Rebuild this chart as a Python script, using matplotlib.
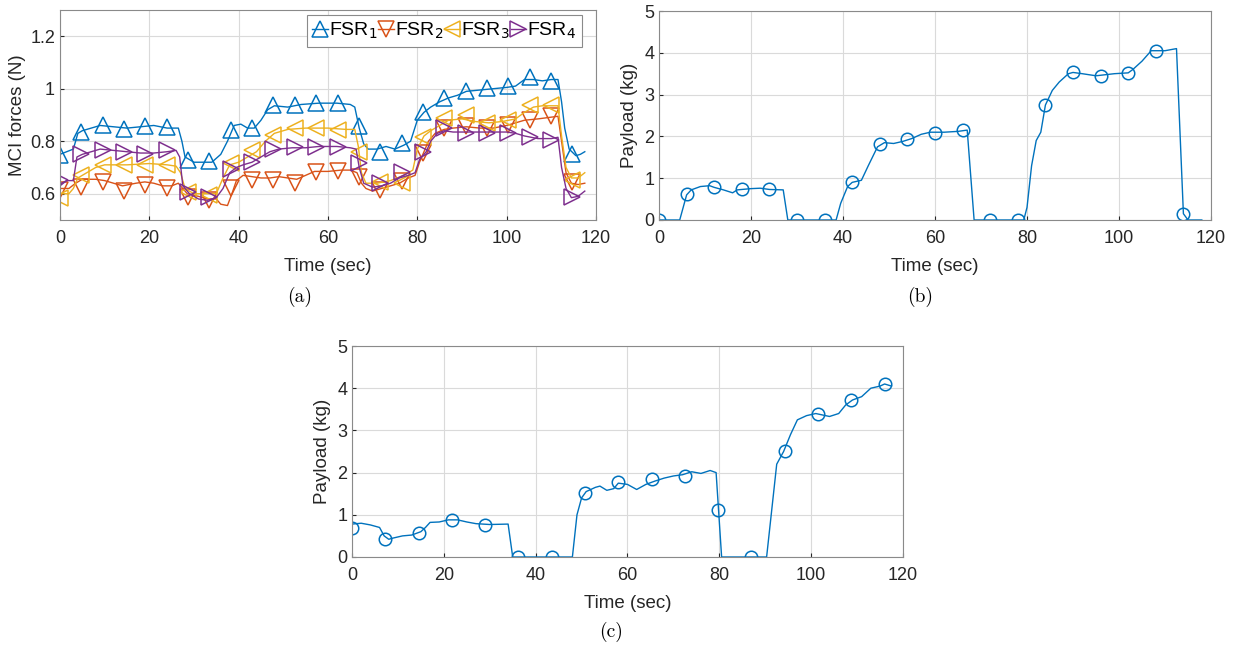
import numpy as np
import matplotlib.pyplot as plt
from matplotlib.lines import Line2D

plt.rcParams['font.family'] = ['Liberation Sans', 'DejaVu Sans']

# ---- (a) MCI forces, 4 FSR sensors ----
fsr_names = ['FSR$_1$', 'FSR$_2$', 'FSR$_3$', 'FSR$_4$']

fsr1_t = [0, 1.5, 3, 4, 5, 7, 9, 12, 15, 18, 21, 24, 26.5, 27.3, 28, 30, 32, 34, 36, 37.5, 39, 40.5,
          42, 43.5, 45, 46.5, 48, 51, 54, 58, 62, 65, 66, 67, 68, 69, 71, 73, 75, 77, 78.5, 80, 81.5,
          83, 85, 87, 89, 91, 94, 97, 100, 102, 104, 106, 108, 110, 111.5, 112.3, 113, 114, 115.5,
          116.5, 117.5]
fsr1_v = [0.75, 0.76, 0.77, 0.83, 0.84, 0.85, 0.86, 0.855, 0.85, 0.855, 0.86, 0.85, 0.85, 0.80, 0.74,
          0.72, 0.72, 0.72, 0.75, 0.80, 0.86, 0.865, 0.85, 0.85, 0.88, 0.92, 0.935, 0.93, 0.94, 0.945,
          0.945, 0.94, 0.93, 0.85, 0.79, 0.77, 0.77, 0.78, 0.77, 0.785, 0.80, 0.88, 0.91, 0.93, 0.95,
          0.965, 0.975, 0.99, 0.995, 1.0, 1.005, 1.01, 1.035, 1.035, 1.03, 1.035, 1.035, 0.95, 0.85,
          0.77, 0.745, 0.75, 0.76]

fsr2_t = [0, 2, 3.5, 5, 8, 10, 12, 14, 17, 19, 21, 23, 25, 26.5, 27.5, 28.5, 31, 33, 35, 36, 37.5,
          38.5, 39.5, 41, 43, 45, 47, 49, 51, 53, 55, 57, 60, 63, 65, 66.5, 67.5, 68.5, 70, 72, 74,
          76, 78, 79.5, 80.5, 81.5, 82.5, 84, 86, 88, 91, 94, 97, 100, 102, 104, 107, 111.5, 112.3,
          113.3, 114.5, 116, 117.5]
fsr2_v = [0.62, 0.62, 0.64, 0.655, 0.655, 0.65, 0.64, 0.63, 0.64, 0.645, 0.64, 0.63, 0.63, 0.64,
          0.62, 0.60, 0.59, 0.58, 0.58, 0.56, 0.555, 0.60, 0.65, 0.67, 0.665, 0.66, 0.66, 0.665,
          0.66, 0.655, 0.67, 0.685, 0.685, 0.69, 0.69, 0.68, 0.64, 0.62, 0.61, 0.62, 0.63, 0.64,
          0.66, 0.67, 0.72, 0.76, 0.80, 0.83, 0.845, 0.85, 0.855, 0.85, 0.85, 0.86, 0.87, 0.88,
          0.885, 0.895, 0.80, 0.68, 0.64, 0.635, 0.64]

fsr3_t = [0, 2, 3, 4, 6, 8, 10, 15, 20, 24, 26, 27, 28, 30, 33, 35, 36.5, 38, 40, 42, 44, 46, 48,
          51, 55, 60, 64, 66, 66.8, 67.5, 68.5, 71, 74, 77, 79, 80, 81.5, 83, 85, 87, 90, 93, 96, 99,
          102, 104, 106, 108, 111.5, 112.3, 113.3, 114.5, 116, 117.5]
fsr3_v = [0.60, 0.60, 0.62, 0.66, 0.68, 0.70, 0.71, 0.71, 0.715, 0.71, 0.705, 0.68, 0.62, 0.60,
          0.60, 0.60, 0.66, 0.71, 0.72, 0.74, 0.76, 0.80, 0.83, 0.845, 0.85, 0.85, 0.845, 0.845,
          0.78, 0.68, 0.64, 0.64, 0.65, 0.67, 0.69, 0.77, 0.82, 0.84, 0.86, 0.88, 0.885, 0.875,
          0.87, 0.875, 0.885, 0.91, 0.93, 0.935, 0.935, 0.82, 0.70, 0.66, 0.66, 0.68]

fsr4_t = [0, 1.5, 3, 3.8, 5, 7, 9, 12, 15, 18, 21, 24, 26, 26.8, 27.5, 29, 31, 33, 35, 36.5, 38,
          39.5, 41, 43, 45, 47, 49, 52, 55, 58, 62, 65, 66.3, 67, 68, 70, 72, 74, 76, 78, 79.5, 80.5,
          82, 83, 84.5, 86, 88, 92, 96, 100, 102, 104, 107, 110, 111.5, 112.3, 113.3, 114.5, 116,
          117.5]
fsr4_v = [0.63, 0.65, 0.65, 0.74, 0.75, 0.76, 0.77, 0.765, 0.76, 0.755, 0.755, 0.76, 0.765, 0.74,
          0.63, 0.60, 0.58, 0.575, 0.585, 0.62, 0.68, 0.70, 0.71, 0.72, 0.74, 0.76, 0.77, 0.775,
          0.775, 0.78, 0.78, 0.775, 0.77, 0.70, 0.64, 0.625, 0.63, 0.64, 0.66, 0.67, 0.68, 0.73,
          0.76, 0.80, 0.83, 0.84, 0.835, 0.835, 0.835, 0.835, 0.83, 0.82, 0.81, 0.81, 0.815, 0.70,
          0.62, 0.585, 0.59, 0.61]

# marker samples (every ~4.78 s)
fsr_mk_t = [0, 4.78, 9.56, 14.34, 19.12, 23.9, 28.68, 33.46, 38.24, 43.02, 47.8, 52.58, 57.36,
            62.14, 66.92, 71.7, 76.48, 81.26, 86.04, 90.82, 95.6, 100.38, 105.16, 109.94, 114.72]
fsr1_mk = [0.748, 0.837, 0.863, 0.845, 0.858, 0.853, 0.729, 0.726, 0.843, 0.849, 0.938, 0.938,
           0.944, 0.947, 0.858, 0.760, 0.792, 0.913, 0.963, 0.993, 1.002, 1.010, 1.043, 1.031, 0.751]
fsr2_mk = [0.614, 0.624, 0.646, 0.612, 0.633, 0.621, 0.586, 0.576, 0.621, 0.652, 0.652, 0.642,
           0.684, 0.688, 0.663, 0.614, 0.648, 0.754, 0.849, 0.858, 0.849, 0.862, 0.881, 0.896, 0.646]
fsr3_mk = [0.583, 0.671, 0.710, 0.710, 0.710, 0.710, 0.608, 0.595, 0.716, 0.767, 0.824, 0.849,
           0.849, 0.843, 0.760, 0.646, 0.640, 0.817, 0.887, 0.900, 0.868, 0.881, 0.938, 0.938, 0.652]
fsr4_mk = [0.652, 0.750, 0.767, 0.760, 0.751, 0.767, 0.608, 0.586, 0.693, 0.722, 0.769, 0.779,
           0.779, 0.779, 0.716, 0.640, 0.684, 0.760, 0.849, 0.833, 0.833, 0.830, 0.817, 0.805, 0.586]

# ---- (b) payload ----
pay_b_t = [0, 4.5, 6, 7, 9, 11, 12, 14, 16, 17, 20, 22, 24, 27, 28, 38.5, 39.5, 41, 42, 44, 45.5,
           47.5, 49, 51, 53, 55, 57, 59, 62, 65, 67, 68.5, 79.3, 80, 81, 82, 83, 84, 85.5, 87, 89,
           90, 92, 95, 99, 102, 103, 105, 107, 110, 112.5, 114, 115, 118]
pay_b_v = [0, 0, 0.60, 0.72, 0.80, 0.82, 0.78, 0.72, 0.65, 0.72, 0.75, 0.76, 0.73, 0.72, 0, 0,
           0.40, 0.80, 0.90, 0.95, 1.30, 1.75, 1.85, 1.83, 1.88, 1.95, 2.05, 2.10, 2.10, 2.12, 2.15,
           0, 0, 0.30, 1.30, 1.90, 2.10, 2.75, 3.10, 3.30, 3.50, 3.53, 3.50, 3.45, 3.50, 3.52,
           3.60, 3.80, 4.05, 4.05, 4.10, 0.15, 0, 0]
pay_b_mk_t = [0, 6, 12, 18, 24, 30, 36, 42, 48, 54, 60, 66, 72, 78, 84, 90, 96, 102, 108, 114]
pay_b_mk = [0, 0.62, 0.79, 0.73, 0.74, 0, 0, 0.90, 1.82, 1.93, 2.08, 2.15, 0, 0, 2.75, 3.53, 3.45,
            3.52, 4.05, 0.15]

# ---- (c) payload ----
pay_c_t = [0, 2, 4, 6, 7, 8, 9, 11, 13, 15, 16, 17, 19, 21, 23, 25, 27, 30, 34, 35, 48, 49, 50, 51,
           53, 54, 55.5, 57, 58, 60, 62, 64, 66, 68, 70, 72, 74, 76, 78, 79.3, 80.5, 90.3, 91.5,
           92.5, 94, 95.5, 97, 99, 101, 104, 106, 107.5, 109, 111, 113, 115, 116, 117.5]
pay_c_v = [0.78, 0.80, 0.76, 0.70, 0.50, 0.42, 0.45, 0.50, 0.52, 0.60, 0.70, 0.82, 0.83, 0.88, 0.88,
           0.83, 0.79, 0.77, 0.78, 0, 0, 1.0, 1.40, 1.55, 1.65, 1.68, 1.58, 1.62, 1.75, 1.72, 1.60,
           1.72, 1.80, 1.87, 1.92, 1.95, 2.02, 1.98, 2.05, 2.00, 0, 0, 1.20, 2.20, 2.50, 2.90, 3.25,
           3.35, 3.40, 3.33, 3.40, 3.60, 3.72, 3.80, 4.00, 4.05, 4.10, 4.05]
pay_c_mk_t = [0, 7.25, 14.5, 21.75, 29, 36.25, 43.5, 50.75, 58, 65.25, 72.5, 79.75, 87, 94.25,
              101.5, 108.75, 116]
pay_c_mk = [0.68, 0.43, 0.57, 0.88, 0.77, 0, 0, 1.52, 1.77, 1.85, 1.93, 1.12, 0, 2.52, 3.40, 3.72,
            4.10]

colors = ['#0072BD', '#D95319', '#EDB120', '#7E2F8E']
markers = ['^', 'v', '<', '>']


def style_axes(ax):
    ax.grid(True, color='#dadada', linewidth=0.8)
    ax.set_axisbelow(True)
    for s in ax.spines.values():
        s.set_color('#8a8a8a')
        s.set_linewidth(0.8)
    ax.tick_params(direction='in', length=3, labelsize=13, colors='#262626')
    ax.tick_params(axis='x', pad=7)
    ax.set_xlim(0, 120)
    ax.set_xticks([0, 20, 40, 60, 80, 100, 120])
    ax.set_xlabel('Time (sec)', fontsize=13.5, color='#262626', labelpad=8)


fig = plt.figure(figsize=(12.39, 6.51), dpi=100)

# (a)
ax_a = fig.add_axes([0.0484, 0.6621, 0.4326, 0.3226])
series = [(fsr1_t, fsr1_v, fsr1_mk), (fsr2_t, fsr2_v, fsr2_mk),
          (fsr3_t, fsr3_v, fsr3_mk), (fsr4_t, fsr4_v, fsr4_mk)]
for (t, v, mk), c, m in zip(series, colors, markers):
    ax_a.plot(t, v, color=c, lw=1.0)
    ax_a.plot(fsr_mk_t, mk, ls='none', marker=m, ms=11, mfc='none', mec=c, mew=1.1)
style_axes(ax_a)
ax_a.set_ylim(0.5, 1.3)
ax_a.set_yticks([0.6, 0.8, 1.0, 1.2])
ax_a.set_yticklabels(['0.6', '0.8', '1', '1.2'])
ax_a.set_ylabel('MCI forces (N)', fontsize=13.5, color='#262626', labelpad=3)
handles = [Line2D([], [], color=c, lw=1.0, marker=m, ms=11, mfc='none', mec=c, mew=1.1)
           for c, m in zip(colors, markers)]
leg = ax_a.legend(handles, fsr_names, loc='upper right', bbox_to_anchor=(0.974, 0.978), ncol=4,
                  fontsize=14, handlelength=0.8, handletextpad=0.05, columnspacing=0.05,
                  borderpad=0.3, borderaxespad=0, fancybox=False, framealpha=1)
leg.get_frame().set_edgecolor('#8a8a8a')
leg.get_frame().set_linewidth(0.8)

# (b)
ax_b = fig.add_axes([0.5319, 0.6621, 0.4455, 0.3210])
ax_b.plot(pay_b_t, pay_b_v, color=colors[0], lw=1.0)
ax_b.plot(pay_b_mk_t, pay_b_mk, ls='none', marker='o', ms=9, mfc='none', mec=colors[0], mew=1.1)
style_axes(ax_b)
ax_b.set_ylim(0, 5)
ax_b.set_ylabel('Payload (kg)', fontsize=13.5, color='#262626', labelpad=4)

# (c)
ax_c = fig.add_axes([0.2841, 0.1444, 0.4447, 0.3241])
ax_c.plot(pay_c_t, pay_c_v, color=colors[0], lw=1.0)
ax_c.plot(pay_c_mk_t, pay_c_mk, ls='none', marker='o', ms=9, mfc='none', mec=colors[0], mew=1.1)
style_axes(ax_c)
ax_c.set_ylim(0, 5)
ax_c.set_ylabel('Payload (kg)', fontsize=13.5, color='#262626', labelpad=4)

# captions
cap_font = dict(fontsize=14, family=['cmr10', 'DejaVu Serif'], ha='center', va='center')
fig.text(300 / 1239, 1 - 297 / 651, '(a)', **cap_font)
fig.text(920 / 1239, 1 - 297 / 651, '(b)', **cap_font)
fig.text(611 / 1239, 1 - 632 / 651, '(c)', **cap_font)

fig.savefig('out.png', dpi=100)
